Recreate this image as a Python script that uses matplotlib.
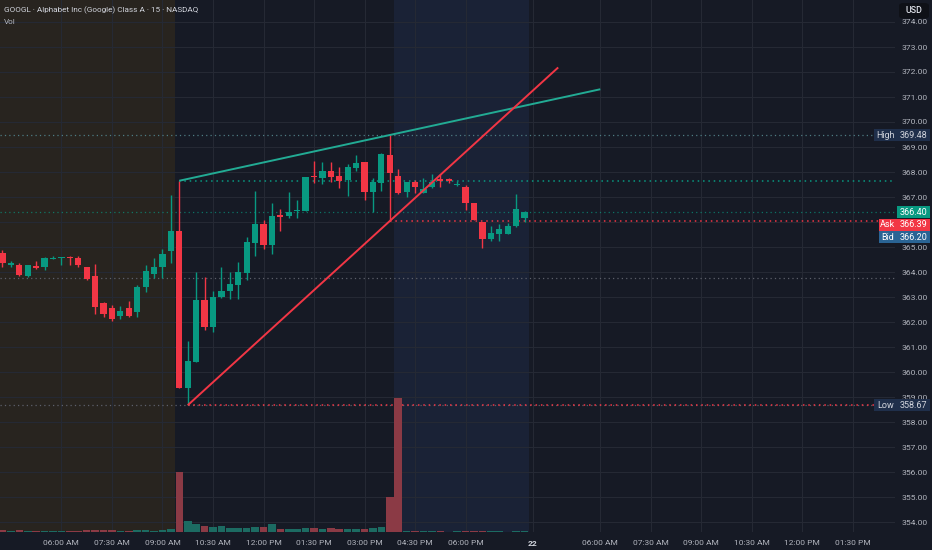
import matplotlib
matplotlib.use("Agg")
import matplotlib.pyplot as plt
import matplotlib.transforms as mtransforms
from matplotlib.patches import Rectangle, FancyBboxPatch

# =========================
# DATA  (GOOGL 15 min bars, 21st from 04:15 AM to 07:45 PM)
# =========================
first_bar = "04:15"
opens = [364.76, 364.27, 364.28, 363.84, 364.24, 364.21, 364.52, 364.57, 364.61, 364.55,
         364.19, 363.84, 362.75, 362.55, 362.24, 362.55, 362.39, 363.41, 363.92, 364.21,
         364.85,
         365.65, 359.36, 360.40, 362.88, 361.79, 363.00, 363.24, 363.48, 363.97, 365.15,
         365.92, 365.08, 366.28, 366.24, 366.43, 366.44, 367.85, 367.77, 368.04, 367.84,
         367.68, 368.17, 368.39, 367.19, 367.55, 368.68,
         367.85, 367.21, 367.59, 367.17, 367.41, 367.72, 367.72, 367.47, 367.39, 366.75,
         366.01, 365.31, 365.52, 365.52, 365.84, 366.17]
highs = [364.88, 364.45, 364.37, 364.28, 364.44, 364.61, 364.65, 364.60, 364.64, 364.64,
         364.20, 364.32, 362.81, 362.68, 362.64, 362.84, 363.48, 364.28, 364.55, 364.91,
         367.08,
         367.65, 361.24, 363.99, 363.81, 363.25, 364.21, 364.01, 364.41, 365.39, 367.25,
         366.08, 366.75, 366.51, 367.21, 366.88, 367.81, 368.44, 368.41, 368.39, 368.21,
         368.32, 368.68, 368.39, 367.77, 368.75, 369.48,
         368.12, 367.61, 367.68, 367.75, 367.91, 367.91, 367.77, 367.65, 367.48, 366.75,
         366.01, 365.85, 365.91, 365.95, 367.12, 366.45]
lows = [364.20, 364.21, 363.84, 363.80, 364.11, 364.08, 364.51, 364.28, 364.28, 364.20,
        363.70, 362.32, 362.19, 362.04, 362.12, 362.21, 362.21, 363.19, 363.75, 363.75,
        364.37,
        359.36, 358.67, 360.40, 361.68, 361.61, 362.95, 362.92, 362.92, 363.68, 364.64,
        364.92, 364.72, 365.64, 366.15, 366.15, 366.44, 367.57, 367.51, 367.61, 367.37,
        367.04, 368.05, 366.88, 366.39, 367.24, 366.04,
        367.12, 366.99, 367.17, 367.17, 367.37, 367.41, 367.55, 367.45, 366.48, 366.08,
        364.97, 365.25, 365.25, 365.52, 365.79, 366.01]
closes = [364.36, 364.37, 363.88, 364.28, 364.16, 364.57, 364.57, 364.60, 364.55, 364.28,
          363.71, 362.61, 362.32, 362.12, 362.45, 362.25, 363.41, 364.05, 364.21, 364.72,
          365.65,
          359.36, 360.43, 362.88, 361.81, 363.01, 363.24, 363.51, 364.01, 365.20, 365.92,
          365.08, 366.25, 366.21, 366.40, 366.48, 367.81, 367.79, 368.04, 367.81, 367.65,
          368.21, 368.37, 367.19, 367.61, 368.71, 367.95,
          367.17, 367.61, 367.41, 367.31, 367.59, 367.65, 367.65, 367.49, 366.75, 366.08,
          365.31, 365.57, 365.72, 365.84, 366.51, 366.40]
# volume in thousands of shares
volumes = [30, 18, 35, 22, 15, 20, 12, 10, 15, 25,
           30, 45, 30, 35, 20, 25, 35, 30, 25, 30,
           50,
           1200, 226, 154, 120, 100, 114, 88, 74, 88, 100,
           94, 154, 54, 68, 68, 80, 80, 60, 88, 54,
           68, 60, 68, 74, 94, 700,
           2674, 20, 15, 12, 10, 12, 8, 10, 18, 20,
           22, 12, 10, 8, 15, 10]

# levels shown on the price scale
session_high = 369.48
session_low = 358.67
prev_close = 363.76
last_price = 366.40
ask_price = 366.39
bid_price = 366.20

# trend line drawings: (day, time, price) anchors and where they stop
upper_anchor = [("21", "09:30", 367.65), ("21", "15:45", 369.48)]
lower_anchor = [("21", "09:45", 358.67), ("21", "15:45", 366.04)]
upper_end = ("22", "06:00")
lower_end = ("22", "04:45")

time_ticks = [("21", "06:00"), ("21", "07:30"), ("21", "09:00"), ("21", "10:30"),
              ("21", "12:00"), ("21", "13:30"), ("21", "15:00"), ("21", "16:30"),
              ("21", "18:00"), ("22", "04:00"), ("22", "06:00"), ("22", "07:30"),
              ("22", "09:00"), ("22", "10:30"), ("22", "12:00"), ("22", "13:30")]
tick_labels = ["06:00 AM", "07:30 AM", "09:00 AM", "10:30 AM", "12:00 PM", "01:30 PM",
               "03:00 PM", "04:30 PM", "06:00 PM", "22", "06:00 AM", "07:30 AM",
               "09:00 AM", "10:30 AM", "12:00 PM", "01:30 PM"]

# =========================
# STYLE
# =========================
UP = "#089981"
DOWN = "#f23645"
BG = "#161a25"
PRE_BG = "#28241f"
POST_BG = "#1a2236"
GRID = "#252934"
TXT = "#b2b5be"
plt.rcParams["font.family"] = ["Roboto", "DejaVu Sans"]


def bar_index(day, hhmm):
    # 15 min bars, index 0 = 09:30 on the 21st, next session starts right after 19:45
    h, m = hhmm.split(":")
    mins = int(h) * 60 + int(m)
    if day == "21":
        return (mins - 570) / 15
    return 42 + (mins - 240) / 15


W, H = 932, 550
fig = plt.figure(figsize=(W / 100, H / 100), dpi=100, facecolor=BG)
ax = fig.add_axes([0, 18 / H, 895 / W, 532 / H])
ax.set_facecolor(BG)
ax.set_xlim(-179.3 / 8.42, (895 - 179.3) / 8.42)
ax.set_ylim(353.6, 374.88)
for s in ax.spines.values():
    s.set_visible(False)

start = int(bar_index("21", first_bar))
xs = list(range(start, start + len(opens)))

# session backgrounds
ax.axvspan(ax.get_xlim()[0], bar_index("21", "09:30") - 0.5, color=PRE_BG, lw=0, zorder=0)
ax.axvspan(bar_index("21", "16:00") - 0.5, bar_index("21", "20:00") - 0.5, color=POST_BG, lw=0, zorder=0)

# grid
tick_pos = [bar_index(d, t) for d, t in time_ticks]
for p in tick_pos:
    ax.axvline(p, color=GRID, lw=0.8, zorder=0.5)
for lvl in range(354, 375):
    ax.axhline(lvl, color=GRID, lw=0.8, zorder=0.5)

# volume pane
axv = ax.twinx()
axv.set_ylim(0, max(volumes) / 0.252)
axv.set_yticks([])
for s in axv.spines.values():
    s.set_visible(False)
vcol = ["#1c6b62" if c >= o else "#8b3a45" for o, c in zip(opens, closes)]
axv.bar(xs, volumes, width=0.9, color=vcol, zorder=1)

# horizontal level lines
dots = (0, (1, 2.5))
ax.axhline(prev_close, color="#5d606b", lw=0.9, ls=dots, zorder=1)
ax.axhline(session_high, color="#4e7c84", lw=0.9, ls=dots, zorder=1)
ax.axhline(session_low, color="#5d606b", lw=0.9, ls=dots, zorder=1)
ax.axhline(last_price, color=UP, lw=0.9, ls=dots, alpha=0.7, zorder=1)
xr = ax.get_xlim()[1]
ax.hlines(upper_anchor[0][2], bar_index(*upper_anchor[0][:2]), xr, color=UP, lw=1.1, ls=dots, zorder=1)
ax.hlines(lower_anchor[0][2], bar_index(*lower_anchor[0][:2]), xr, color=DOWN, lw=1.1, ls=dots, zorder=1)
ax.hlines(lower_anchor[1][2], bar_index(*lower_anchor[1][:2]), xr, color=DOWN, lw=1.1, ls=dots, zorder=1)

# candles
ccol = [UP if c >= o else DOWN for o, c in zip(opens, closes)]
ax.vlines(xs, lows, highs, color=ccol, lw=1, zorder=3)
bodies = [max(abs(c - o), 0.05) for o, c in zip(opens, closes)]
ax.bar(xs, bodies, bottom=[min(o, c) for o, c in zip(opens, closes)], width=0.74,
       color=ccol, zorder=4)


# trend lines
def extend(anchor, end):
    (d0, t0, p0), (d1, t1, p1) = anchor
    x0, x1 = bar_index(d0, t0), bar_index(d1, t1)
    xe = bar_index(*end)
    pe = p0 + (p1 - p0) / (x1 - x0) * (xe - x0)
    return [x0, xe], [p0, pe]


ux, uy = extend(upper_anchor, upper_end)
ax.plot(ux, uy, color="#22ab94", lw=1.4, zorder=5, solid_capstyle="butt")
lx, ly = extend(lower_anchor, lower_end)
ax.plot(lx, ly, color=DOWN, lw=1.4, zorder=5, solid_capstyle="butt")

# axes ticks
ax.yaxis.tick_right()
ax.set_yticks([v for v in range(354, 375) if v != 366])
ax.set_yticklabels([f"{v:.2f}" for v in range(354, 375) if v != 366])
ax.tick_params(axis="y", length=0, pad=5, labelsize=6.1, colors=TXT)
ax.set_xticks(tick_pos)
ax.set_xticklabels(tick_labels)
ax.tick_params(axis="x", length=0, pad=5.5, labelsize=6.0, colors=TXT)
for lab in ax.get_xticklabels():
    if lab.get_text() == "22":
        lab.set_fontweight("bold")
        lab.set_color("#d1d4dc")

# price scale tags
tf = mtransforms.blended_transform_factory(fig.transFigure, ax.transData)


def tag(x0, x1, y, text, fc, tc):
    fig.add_artist(Rectangle((x0 / W, y - 0.24), (x1 - x0) / W, 0.48, transform=tf,
                             facecolor=fc, edgecolor="none", zorder=10))
    fig.text((x0 + x1) / 2 / W, y, text, transform=tf, ha="center", va="center",
             fontsize=6.5, color=tc, zorder=11)


tag(874, 897, session_high, "High", "#1f2f4b", "#d1d4dc")
tag(897, 930, session_high, f"{session_high:.2f}", "#1f2f4b", "#d1d4dc")
tag(874, 897, session_low, "Low", "#1f2f4b", "#d1d4dc")
tag(897, 930, session_low, f"{session_low:.2f}", "#1f2f4b", "#d1d4dc")
tag(897, 930, last_price, f"{last_price:.2f}", UP, "white")
tag(879, 897, last_price - 0.5, "Ask", DOWN, "white")
tag(897, 930, last_price - 0.5, f"{ask_price:.2f}", DOWN, "white")
tag(879, 897, last_price - 1.0, "Bid", "#2a6494", "white")
tag(897, 930, last_price - 1.0, f"{bid_price:.2f}", "#2a6494", "white")

# currency box
fig.add_artist(FancyBboxPatch((899 / W, 1 - 18.5 / H), 30 / W, 15.5 / H, transform=fig.transFigure,
                              boxstyle="round,pad=0,rounding_size=0.005",
                              facecolor="#0f1117", edgecolor="none", zorder=12))
fig.text(913.5 / W, 1 - 10.8 / H, "USD", ha="center", va="center", fontsize=6.4,
         color="#e0e3eb", fontweight="medium", zorder=13)

# header
fig.text(4 / W, 1 - 10.5 / H, "GOOGL · Alphabet Inc (Google) Class A · 15 · NASDAQ",
         ha="left", va="center", fontsize=5.9, color="#d1d4dc", zorder=13)
fig.text(4 / W, 1 - 21.5 / H, "Vol", ha="left", va="center", fontsize=5.9,
         color="#b2b5be", zorder=13)

fig.savefig("out.png", dpi=100, facecolor=BG)
